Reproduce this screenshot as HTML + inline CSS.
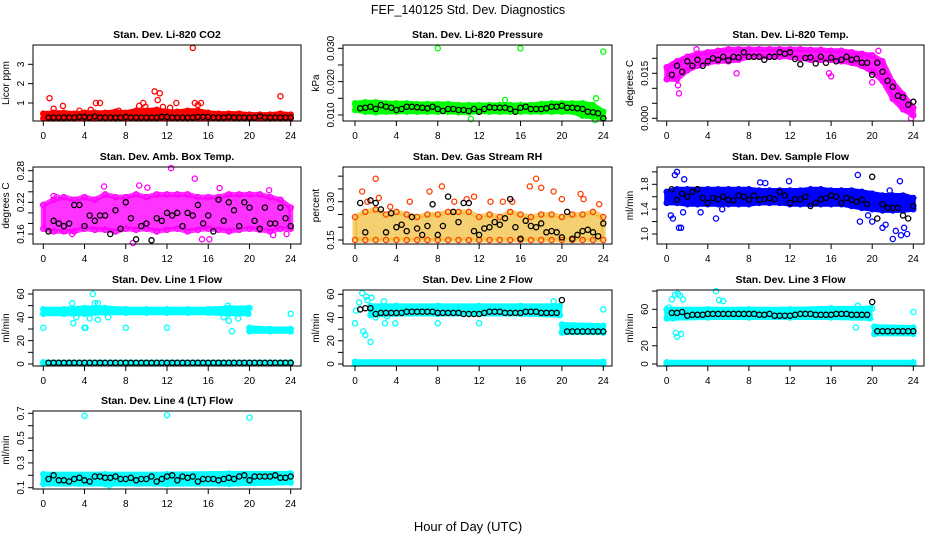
<!DOCTYPE html>
<html><head><meta charset="utf-8">
<style>
html,body{margin:0;padding:0;background:#fff;}
svg{display:block;font-family:"Liberation Sans",sans-serif;}
</style></head>
<body>
<svg id="chart" width="936" height="540" viewBox="0 0 936 540">
<text x="468" y="14" text-anchor="middle" font-size="12.5">FEF_140125  Std. Dev. Diagnostics</text>
<text x="468" y="531" text-anchor="middle" font-size="13">Hour of Day (UTC)</text>
</svg>
<script>
const blackHours=[0.5,1,1.5,2,2.5,3,3.5,4,4.5,5,5.5,6,6.5,7,7.5,8,8.5,9,9.5,10,10.5,11,11.5,12,12.5,13,13.5,14,14.5,15,15.5,16,16.5,17,17.5,18,18.5,19,19.5,20,20.5,21,21.5,22,22.5,23,23.5,24];
const hours=[0,1,2,3,4,5,6,7,8,9,10,11,12,13,14,15,16,17,18,19,20,21,22,23,24];
const xTicks=[0,4,8,12,16,20,24];

// P1 CO2
const co2Lo=[0.2,0.2,0.2,0.2,0.2,0.2,0.2,0.2,0.2,0.2,0.2,0.2,0.2,0.2,0.2,0.2,0.2,0.2,0.2,0.2,0.2,0.2,0.2,0.2,0.2];
const co2Hi=[0.45,0.5,0.5,0.45,0.5,0.5,0.5,0.55,0.5,0.6,0.6,0.65,0.55,0.55,0.6,0.6,0.5,0.45,0.45,0.45,0.4,0.4,0.4,0.45,0.4];
const co2OutX=[0.6,1.0,1.9,3.5,4.6,5.1,5.5,7.3,9.3,9.7,9.9,10.8,11.1,11.3,11.6,12.3,12.9,14.5,14.7,15.0,15.3,23.0];
const co2OutY=[1.25,0.7,0.85,0.6,0.65,1.0,1.0,0.6,0.85,1.0,0.8,1.6,1.15,1.5,0.8,0.75,1.0,3.85,1.0,0.9,1.0,1.35];
const co2Black=[0.25,0.25,0.25,0.25,0.25,0.25,0.28,0.28,0.25,0.3,0.25,0.25,0.25,0.25,0.25,0.28,0.25,0.25,0.25,0.25,0.25,0.25,0.28,0.28,0.25,0.25,0.25,0.25,0.25,0.28,0.28,0.28,0.25,0.25,0.25,0.28,0.25,0.25,0.25,0.25,0.25,0.3,0.25,0.25,0.25,0.25,0.25,0.25];
// P2 Pressure
const prLo=[0.0115,0.011,0.0108,0.011,0.011,0.011,0.011,0.011,0.011,0.011,0.0108,0.0108,0.011,0.011,0.011,0.011,0.011,0.011,0.011,0.011,0.011,0.011,0.0098,0.0095,0.009];
const prHi=[0.0135,0.0138,0.0138,0.0135,0.0135,0.0135,0.0133,0.0133,0.0133,0.0133,0.013,0.013,0.013,0.013,0.013,0.013,0.013,0.013,0.0133,0.0135,0.0135,0.0135,0.0135,0.013,0.011];
const prOutX=[8,16,24,23.3,14.5,11.2,23.2];
const prOutY=[0.030,0.030,0.029,0.015,0.0145,0.0088,0.0085];
const prBlack=[0.012,0.0122,0.0125,0.0118,0.013,0.0125,0.0122,0.0115,0.0118,0.0125,0.0125,0.0123,0.0122,0.012,0.0125,0.0118,0.0112,0.0118,0.0118,0.0115,0.0115,0.0112,0.0118,0.011,0.0118,0.0123,0.0122,0.0122,0.0122,0.0118,0.011,0.0122,0.0125,0.0118,0.0118,0.0118,0.012,0.0125,0.0125,0.0128,0.0122,0.0122,0.012,0.0118,0.011,0.0108,0.0105,0.009];
// P3 Li-820 Temp
const tLo=[0.013,0.013,0.016,0.0175,0.0185,0.019,0.019,0.0195,0.0205,0.0205,0.0205,0.0205,0.0205,0.02,0.0195,0.0195,0.0195,0.019,0.0185,0.0175,0.0155,0.0125,0.0065,0.003,0.001];
const tHi=[0.017,0.019,0.0205,0.0215,0.022,0.0225,0.023,0.023,0.023,0.023,0.023,0.023,0.023,0.023,0.0228,0.0228,0.0225,0.0225,0.022,0.0215,0.021,0.019,0.012,0.008,0.0035];
const tOutX=[0.6,1.2,1.1,2.9,20,20.6,22.8,23.8,6.8,15.8,16];
const tOutY=[0.018,0.0083,0.011,0.023,0.012,0.0225,0.0055,0.0,0.015,0.015,0.014];
const tBlack=[0.0145,0.0175,0.0155,0.019,0.0175,0.0195,0.0175,0.019,0.02,0.0195,0.0205,0.0193,0.0205,0.0203,0.022,0.0205,0.0205,0.0205,0.0195,0.0205,0.0205,0.022,0.0215,0.022,0.0198,0.018,0.0201,0.0203,0.0183,0.0205,0.0185,0.0202,0.019,0.0195,0.0205,0.0195,0.0199,0.0185,0.0185,0.0145,0.0185,0.0155,0.0125,0.0105,0.0075,0.007,0.0045,0.0055];
// P4 Amb box temp
const abLo=[0.17,0.165,0.165,0.165,0.17,0.168,0.168,0.165,0.17,0.168,0.17,0.165,0.168,0.17,0.165,0.168,0.17,0.168,0.165,0.168,0.17,0.168,0.165,0.17,0.17];
const abHi=[0.215,0.225,0.23,0.225,0.23,0.225,0.235,0.23,0.23,0.235,0.23,0.235,0.235,0.235,0.235,0.23,0.23,0.23,0.235,0.235,0.235,0.235,0.23,0.225,0.21];
const abOutX=[0,1,1.3,5.9,8.7,9.3,10.1,12.4,14.7,15.4,16.1,17.1,21.9,22.3,23.6,2.8];
const abOutY=[0.215,0.232,0.23,0.25,0.143,0.252,0.248,0.285,0.265,0.15,0.15,0.247,0.243,0.158,0.16,0.16];
const abBlack=[0.165,0.185,0.18,0.175,0.18,0.215,0.215,0.175,0.195,0.185,0.195,0.195,0.16,0.205,0.17,0.22,0.19,0.15,0.175,0.18,0.148,0.19,0.185,0.2,0.195,0.2,0.175,0.2,0.195,0.215,0.18,0.195,0.165,0.225,0.185,0.22,0.205,0.175,0.22,0.21,0.185,0.17,0.21,0.18,0.18,0.21,0.19,0.175];
// P5 Gas stream RH
const rhLo=[0.15,0.15,0.15,0.15,0.15,0.15,0.15,0.15,0.15,0.15,0.15,0.15,0.15,0.15,0.15,0.15,0.15,0.15,0.15,0.15,0.15,0.15,0.15,0.15,0.15];
const rhHi=[0.24,0.26,0.27,0.25,0.26,0.25,0.24,0.25,0.25,0.26,0.26,0.26,0.24,0.25,0.24,0.26,0.25,0.24,0.25,0.25,0.24,0.25,0.25,0.26,0.24];
const rhOutX=[2,0.7,2.3,3.4,7.2,8.4,9.6,10.8,11.5,13.1,16.9,17.5,18,19.2,20,21.8,22.1,23.6,1.2,5.3,14.3,15.2];
const rhOutY=[0.39,0.34,0.315,0.28,0.34,0.36,0.3,0.31,0.32,0.3,0.36,0.39,0.355,0.34,0.31,0.33,0.31,0.29,0.3,0.3,0.3,0.3];
const rhBlack=[0.295,0.18,0.305,0.295,0.27,0.18,0.255,0.2,0.21,0.185,0.24,0.195,0.17,0.205,0.29,0.17,0.205,0.32,0.26,0.22,0.295,0.295,0.185,0.17,0.195,0.2,0.22,0.21,0.235,0.31,0.2,0.155,0.225,0.205,0.2,0.215,0.18,0.185,0.18,0.16,0.26,0.155,0.17,0.185,0.19,0.18,0.165,0.215];
// P6 Sample flow
const sfLo=[1.5,1.5,1.48,1.48,1.48,1.48,1.48,1.48,1.48,1.5,1.5,1.5,1.48,1.48,1.48,1.48,1.48,1.48,1.45,1.42,1.4,1.38,1.38,1.38,1.4];
const sfHi=[1.68,1.72,1.72,1.72,1.72,1.72,1.72,1.72,1.72,1.7,1.7,1.7,1.7,1.7,1.72,1.72,1.7,1.7,1.7,1.68,1.65,1.62,1.62,1.62,1.58];
const sfOutX=[1,0.8,1.7,0.4,0.6,1.2,1.4,1.6,3.3,4.8,5.4,11.9,9.1,9.6,18.6,18.8,19.6,20,21,21.3,22,22.3,22.8,23.4,23.1,22.7,23.3,21.7];
const sfOutY=[2.0,1.95,1.88,1.3,1.25,1.1,1.1,1.35,1.35,1.25,1.4,1.85,1.83,1.82,1.95,1.2,1.3,1.2,1.1,1.15,0.92,1.05,0.98,1.0,1.1,1.85,1.6,1.7];
const sfBlack=[1.72,1.55,1.65,1.6,1.68,1.72,1.58,1.5,1.58,1.56,1.6,1.55,1.54,1.62,1.6,1.55,1.62,1.55,1.56,1.58,1.56,1.68,1.62,1.5,1.56,1.56,1.6,1.45,1.5,1.56,1.58,1.62,1.6,1.5,1.58,1.55,1.52,1.55,1.48,1.92,1.25,1.48,1.42,1.42,1.42,1.3,1.25,1.45];
// L1
const l1X=[0,2,4,6,8,10,12,14,16,18,19.9];
const l1Lo=[43,43,43,44,44,44,44,44,44,43,43];
const l1Hi=[47,47,48,48,47,47,47,47,47,48,48];
const l1bX=[20,22,24];
const l1bLo=[28,28,28];
const l1bHi=[31,30,30];
const l1OutX=[0,4,8,12,4.8,2.8,5,5.3,2.9,3.2,4.5,5.3,6.3,17.5,18,18.3,18.9,17.9,24,20,4.1];
const l1OutY=[31,31,31,31,60,52,52,52,35,40,39,38,40,40,37,28,39,50,43,48,31];
const l1Black=[1,1,1,1,1,1,1,1,1,1,1,1,1,1,1,1,1,1,1,1,1,1,1,1,1,1,1,1,1,1,1,1,1,1,1,1,1,1,1,1,1,1,1,1,1,1,1,1];
// L2
const l2X=[1.5,4,8,12,16,19.8];
const l2Lo=[42,43,43,43,43,42];
const l2Hi=[50,50,50,50,50,50];
const l2bX=[20,24];
const l2bLo=[27,27];
const l2bHi=[34,33];
const l2OutX=[0,0.4,0.7,1.1,1.2,0.8,1.0,1.5,1.6,2,2.9,3.1,3.9,8,12,24,19.2,2.8,0.1];
const l2OutY=[35,53,61,58,55,28,25,19,57,40,35,41,35,35,35,47,54,54,46];
const l2Black=[47,48,48,43,44,44,44,44,44,45,45,45,45,45,45,44,44,44,44,44,43,43,43,43,44,45,45,45,44,44,44,44,45,45,45,44,44,44,44,55,28,28,28,28,28,28,28,28];
// L3
const l3X=[0,4,8,12,16,19.8];
const l3Lo=[50,51,51,51,51,50];
const l3Hi=[60,60,60,60,61,61];
const l3bX=[20.2,24];
const l3bLo=[33,33];
const l3bHi=[41,40];
const l3OutX=[0.2,0.5,0.8,1.1,1.3,1.6,0.6,0.9,1.0,1.4,2.1,4.8,5.1,5.5,5.1,18,18.4,20,24,18.6];
const l3OutY=[62,71,76,77,75,71,50,34,30,33,53,80,70,69,52,51,40,61,57,64];
const l3Black=[56,56,57,53,54,54,54,55,55,55,55,55,55,55,55,55,55,54,54,55,53,53,53,53,54,55,55,55,54,54,54,54,55,55,55,54,54,54,54,68,36,36,36,36,36,36,36,36];
// L4
const l4X=[0,6,12,18,24];
const l4Lo=[0.13,0.13,0.13,0.13,0.14];
const l4Hi=[0.21,0.21,0.21,0.215,0.215];
const l4OutX=[4,12,20,6.4,12];
const l4OutY=[0.68,0.685,0.665,0.12,0.13];
const l4Black=[0.17,0.2,0.16,0.16,0.15,0.17,0.18,0.16,0.15,0.19,0.19,0.18,0.18,0.19,0.17,0.17,0.18,0.16,0.17,0.17,0.19,0.15,0.17,0.19,0.2,0.16,0.19,0.18,0.19,0.15,0.17,0.17,0.17,0.16,0.17,0.18,0.17,0.19,0.2,0.16,0.19,0.19,0.19,0.19,0.2,0.18,0.18,0.19];

const NS="http://www.w3.org/2000/svg";
const svg=document.getElementById('chart');
function el(tag,attrs,parent){const e=document.createElementNS(NS,tag);for(const k in attrs)e.setAttribute(k,attrs[k]);(parent||svg).appendChild(e);return e;}

const colsX=[{bl:33,br:301,x0:43.3,x24:290.7},{bl:343,br:612,x0:355,x24:603.3},{bl:657,br:924,x0:666.7,x24:913.3}];
const rowsY=[{bt:45,bb:121},{bt:167,bb:244},{bt:290,bb:366},{bt:411,bb:489}];

const panels=[
 {name:'co2',title:'Stan. Dev. Li-820 CO2',ylab:'Licor ppm',c:0,r:0,ref:[1,103,3,64.3],ticks:[1,2,3],labels:[1,2,3],dec:0,col:'#ff0000',op:1,bands:[[hours,co2Lo,co2Hi]],ox:co2OutX,oy:co2OutY,blk:co2Black},
 {name:'pressure',title:'Stan. Dev. Li-820 Pressure',ylab:'kPa',c:1,r:0,ref:[0.010,115,0.030,48.3],ticks:[0.010,0.015,0.020,0.025,0.030],labels:[0.010,0.020,0.030],dec:3,col:'#00ff00',op:1,bands:[[hours,prLo,prHi]],ox:prOutX,oy:prOutY,blk:prBlack},
 {name:'li820-temp',title:'Stan. Dev. Li-820 Temp.',ylab:'degrees C',c:2,r:0,ref:[0,118.3,0.015,73.3],ticks:[0,0.005,0.010,0.015,0.020],labels:[0,0.015],dec:3,col:'#ff00ff',op:0.9,bands:[[hours,tLo,tHi]],ox:tOutX,oy:tOutY,blk:tBlack},
 {name:'amb-box-temp',title:'Stan. Dev. Amb. Box Temp.',ylab:'degrees C',c:0,r:1,ref:[0.16,234,0.28,170.7],ticks:[0.16,0.18,0.20,0.22,0.24,0.26,0.28],labels:[0.16,0.22,0.28],dec:2,col:'#ff00ff',op:0.8,bands:[[hours,abLo,abHi]],ox:abOutX,oy:abOutY,blk:abBlack},
 {name:'gas-rh',title:'Stan. Dev. Gas Stream RH',ylab:'percent',c:1,r:1,ref:[0.15,240,0.30,201.7],ticks:[0.15,0.20,0.25,0.30,0.35,0.40],labels:[0.15,0.30],dec:2,col:'#f2c040',op:0.75,ring:'#ff4000',bands:[[hours,rhLo,rhHi]],ox:rhOutX,oy:rhOutY,blk:rhBlack},
 {name:'sample-flow',title:'Stan. Dev. Sample Flow',ylab:'ml/min',c:2,r:1,ref:[1.0,234,1.8,184.3],ticks:[1.0,1.2,1.4,1.6,1.8,2.0],labels:[1.0,1.4,1.8],dec:1,col:'#0000ff',op:1,bands:[[hours,sfLo,sfHi]],ox:sfOutX,oy:sfOutY,blk:sfBlack},
 {name:'line1-flow',title:'Stan. Dev. Line 1 Flow',ylab:'ml/min',c:0,r:2,ref:[0,364,60,294],ticks:[0,10,20,30,40,50,60],labels:[0,20,40,60],dec:0,col:'#00ffff',op:1,bands:[[l1X,l1Lo,l1Hi],[l1bX,l1bLo,l1bHi],[[0,24],[0.5,0.5],[1.5,1.5]]],ox:l1OutX,oy:l1OutY,blk:l1Black},
 {name:'line2-flow',title:'Stan. Dev. Line 2 Flow',ylab:'ml/min',c:1,r:2,ref:[0,364,60,294.3],ticks:[0,10,20,30,40,50,60],labels:[0,20,40,60],dec:0,col:'#00ffff',op:1,bands:[[l2X,l2Lo,l2Hi],[l2bX,l2bLo,l2bHi],[[0,24],[0,0],[2,2]]],ox:l2OutX,oy:l2OutY,blk:l2Black},
 {name:'line3-flow',title:'Stan. Dev. Line 3 Flow',ylab:'ml/min',c:2,r:2,ref:[0,364,60,309.3],ticks:[0,20,40,60,80],labels:[0,20,60],dec:0,col:'#00ffff',op:1,bands:[[l3X,l3Lo,l3Hi],[l3bX,l3bLo,l3bHi],[[0,24],[0,0],[2,2]]],ox:l3OutX,oy:l3OutY,blk:l3Black},
 {name:'line4-flow',title:'Stan. Dev. Line 4 (LT) Flow',ylab:'ml/min',c:0,r:3,ref:[0.1,487.7,0.7,413.3],ticks:[0.1,0.2,0.3,0.4,0.5,0.6,0.7],labels:[0.1,0.3,0.5,0.7],dec:1,col:'#00ffff',op:1,bands:[[l4X,l4Lo,l4Hi]],ox:l4OutX,oy:l4OutY,blk:l4Black}
];

function ring(g,x,y,color,name){
  const c=el('circle',{cx:x.toFixed(1),cy:y.toFixed(1),r:2.6,fill:'none',stroke:color,'stroke-width':1.3},g);
  
  
}

panels.forEach(p=>{
  const C=colsX[p.c],R=rowsY[p.r];
  const g=el('g',{});
  
  
  const xs=h=>C.x0+h*(C.x24-C.x0)/24;
  const [v1,py1,v2,py2]=p.ref;
  const ys=v=>py1+(v-v1)*(py2-py1)/(v2-v1);
  const t=el('text',{x:(C.bl+C.br)/2,y:R.bt-7,'text-anchor':'middle','font-size':10.5,'font-weight':'bold'},g);
  t.textContent=p.title;
  
  
  const cid='clip-'+p.name;
  const cp=el('clipPath',{id:cid},g);
  el('rect',{x:C.bl,y:R.bt-4,width:C.br-C.bl,height:R.bb-R.bt+8},cp);
  const data=el('g',{'clip-path':'url(#'+cid+')'},g);
  
  
  const ringCol=p.ring||p.col;
  p.bands.forEach(b=>{
    const [bx,lo,hi]=b;
    let pts=bx.map((h,i)=>xs(h).toFixed(1)+','+ys(hi[i]).toFixed(1));
    for(let i=bx.length-1;i>=0;i--)pts.push(xs(bx[i]).toFixed(1)+','+ys(lo[i]).toFixed(1));
    const poly=el('polygon',{points:pts.join(' '),fill:p.col,stroke:p.col,'stroke-width':5,'stroke-linejoin':'round','fill-opacity':p.op,'stroke-opacity':p.op},data);
    
    
    bx.forEach((h,i)=>{ring(data,xs(h),ys(hi[i]),ringCol,'point');ring(data,xs(h),ys(lo[i]),ringCol,'point');});
  });
  p.ox.forEach((h,i)=>ring(data,xs(h),ys(p.oy[i]),ringCol,'outlier-point'));
  blackHours.forEach((h,i)=>ring(data,xs(h),ys(p.blk[i]),'#000','hourly-point'));
  const box=el('rect',{x:C.bl,y:R.bt,width:C.br-C.bl,height:R.bb-R.bt,fill:'none',stroke:'#000','stroke-width':1},g);
  
  
  xTicks.forEach(h=>{
    el('line',{x1:xs(h),x2:xs(h),y1:R.bb,y2:R.bb+5,stroke:'#000'},g);
    const tl=el('text',{x:xs(h),y:R.bb+18,'text-anchor':'middle','font-size':10},g);
    tl.textContent=h;
    
    
  });
  const ymin=Math.min(...p.ticks),ymax=Math.max(...p.ticks);
  el('line',{x1:C.bl,x2:C.bl,y1:ys(ymin),y2:ys(ymax),stroke:'#000'},g);
  p.ticks.forEach(v=>el('line',{x1:C.bl-5,x2:C.bl,y1:ys(v),y2:ys(v),stroke:'#000'},g));
  p.labels.forEach(v=>{
    const yy=ys(v),xx=C.bl-9;
    const tl=el('text',{x:xx,y:yy,'text-anchor':'middle','font-size':10,transform:'rotate(-90 '+xx+' '+yy+')'},g);
    tl.textContent=v.toFixed(p.dec);
    
    
  });
  const yl=(R.bt+R.bb)/2,xl=C.bl-24;
  const ylab=el('text',{x:xl,y:yl,'text-anchor':'middle','font-size':10,transform:'rotate(-90 '+xl+' '+yl+')'},g);
  ylab.textContent=p.ylab;
  
  
});
</script>
</body></html>
